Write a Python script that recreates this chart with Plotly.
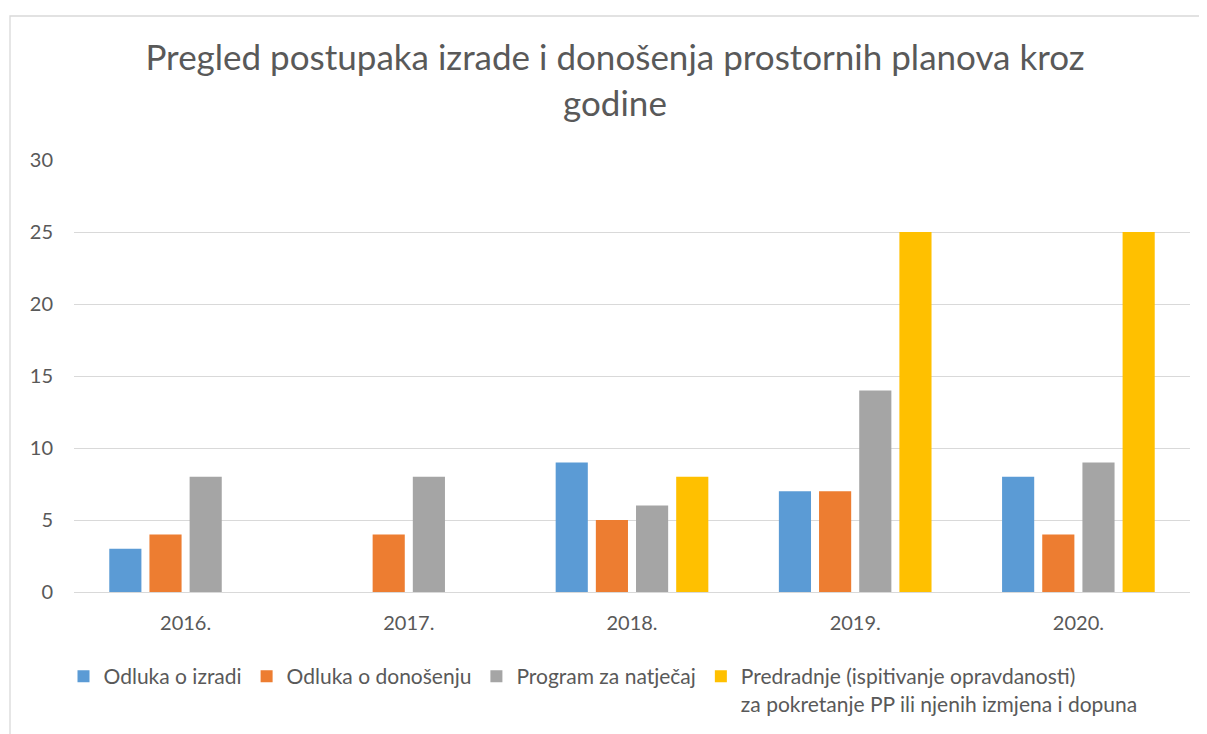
import plotly.graph_objects as go

categories = ["2016.", "2017.", "2018.", "2019.", "2020."]
odluka_izradi = [3, None, 9, 7, 8]
odluka_donosenju = [4, 4, 5, 7, 4]
program_natjecaj = [8, 8, 6, 14, 9]
predradnje = [None, None, 8, 25, 25]

series_names = [
    "Odluka o izradi",
    "Odluka o donošenju",
    "Program za natječaj",
    "Predradnje (ispitivanje opravdanosti)<br>za pokretanje PP ili njenih izmjena i dopuna",
]
series_values = [odluka_izradi, odluka_donosenju, program_natjecaj, predradnje]
colors = ["#5B9BD5", "#ED7D31", "#A5A5A5", "#FFC000"]

FONT = "Lato"
TXT = "#595959"

fig = go.Figure()
for name, vals, col in zip(series_names, series_values, colors):
    fig.add_trace(go.Bar(x=categories, y=vals, name=name, marker=dict(color=col, line=dict(width=0))))

OFF = 8  # page body margin
W, H = 1207 - OFF, 734 - OFF
L, R, T, B = 74 - OFF, 17, 160 - OFF, 142
pw, ph = W - L - R, H - T - B

def px_x(x):
    return (x - OFF - L) / pw

def px_y(y):
    return (H - B - (y - OFF)) / ph

fig.update_layout(
    width=W, height=H,
    margin=dict(l=L, r=R, t=T, b=B, autoexpand=False),
    paper_bgcolor="white", plot_bgcolor="white",
    font=dict(family=FONT, color=TXT, size=20),
    barmode="group", bargap=0.28, bargroupgap=0.2,
    title=dict(
        text="Pregled postupaka izrade i donošenja prostornih planova kroz<br>godine",
        x=(615 - OFF) / W, xanchor="center", xref="container",
        y=1 - 62 / H, yanchor="top", yref="container",
        font=dict(family=FONT, size=35, color=TXT),
    ),
    xaxis=dict(showgrid=False, showline=False, ticks="", tickfont=dict(size=20, color=TXT),
               ticklabelstandoff=17),
    yaxis=dict(range=[0, 30], tickvals=[0, 5, 10, 15, 20, 25, 30], showgrid=True,
               gridcolor="#D9D9D9", gridwidth=1, zeroline=True, zerolinecolor="#D9D9D9",
               zerolinewidth=1, showline=False, ticks="", tickfont=dict(size=20, color=TXT),
               ticklabelstandoff=20),
    legend=dict(orientation="h", x=px_x(603), xanchor="center", y=px_y(656), yanchor="top",
                valign="top", font=dict(size=21, color=TXT), itemwidth=30,
                traceorder="normal", bgcolor="rgba(0,0,0,0)"),
    shapes=[dict(type="rect", xref="paper", yref="paper",
                 x0=px_x(10), x1=px_x(1215), y0=px_y(745), y1=px_y(16),
                 line=dict(color="#D9D9D9", width=1.3), fillcolor="rgba(0,0,0,0)", layer="below")],
)

fig.write_html("out.html")
